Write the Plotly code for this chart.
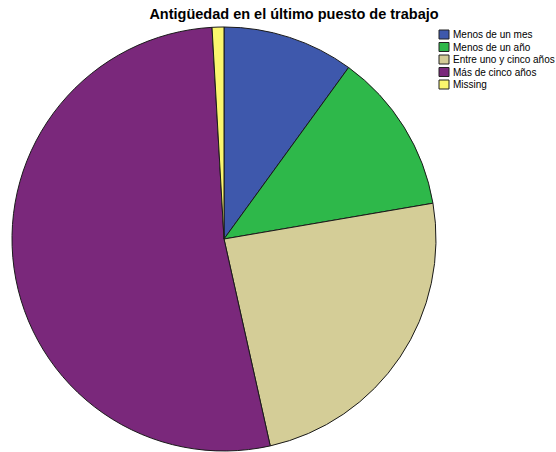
import plotly.graph_objects as go

# Job tenure categories and their shares (%)
categories = ["Menos de un mes", "Menos de un año", "Entre uno y cinco años",
              "Más de cinco años", "Missing"]
shares = [10.0, 12.3, 24.2, 52.6, 0.9]
colors = ["#3e58ac", "#2eb84a", "#d4cd97", "#7a287b", "#fbf66e"]

W, H = 556, 452
cx, cy, r = 224, 239, 212

fig = go.Figure(go.Pie(
    labels=categories,
    values=shares,
    sort=False,
    direction="clockwise",
    rotation=0,
    textinfo="none",
    hoverinfo="label+percent",
    marker=dict(colors=colors, line=dict(color="#1a1a1a", width=1)),
    domain=dict(x=[(cx - r) / W, (cx + r) / W],
                y=[(H - cy - r) / H, (H - cy + r) / H]),
    showlegend=False,
))

# Compact legend: swatch + label per category, in pixel offsets from the top-left
leg_x, leg_y0, leg_step = 439, 34.5, 12.5
sw_w, sw_h = 10, 9
shapes, annotations = [], []
for i, (name, col) in enumerate(zip(categories, colors)):
    yc = leg_y0 + i * leg_step
    shapes.append(dict(
        type="rect", xref="paper", yref="paper",
        x0=leg_x / W, x1=(leg_x + sw_w) / W,
        y0=1 - (yc + sw_h / 2) / H, y1=1 - (yc - sw_h / 2) / H,
        fillcolor=col, line=dict(color="#222222", width=1),
    ))
    annotations.append(dict(
        text=name, xref="paper", yref="paper",
        x=(leg_x + sw_w + 2) / W, y=1 - yc / H,
        xanchor="left", yanchor="middle", showarrow=False,
        font=dict(size=10, color="black"),
    ))

fig.update_layout(
    width=W, height=H,
    margin=dict(l=0, r=0, t=0, b=0),
    paper_bgcolor="white",
    plot_bgcolor="white",
    font=dict(family="Liberation Sans, Arial, sans-serif", color="black"),
    title=dict(text="<b>Antigüedad en el último puesto de trabajo</b>",
               x=294 / W, xanchor="center", y=1 - 14 / H, yanchor="middle",
               font=dict(size=14.5, color="black")),
    shapes=shapes,
    annotations=annotations,
)

fig.write_html("out.html")
